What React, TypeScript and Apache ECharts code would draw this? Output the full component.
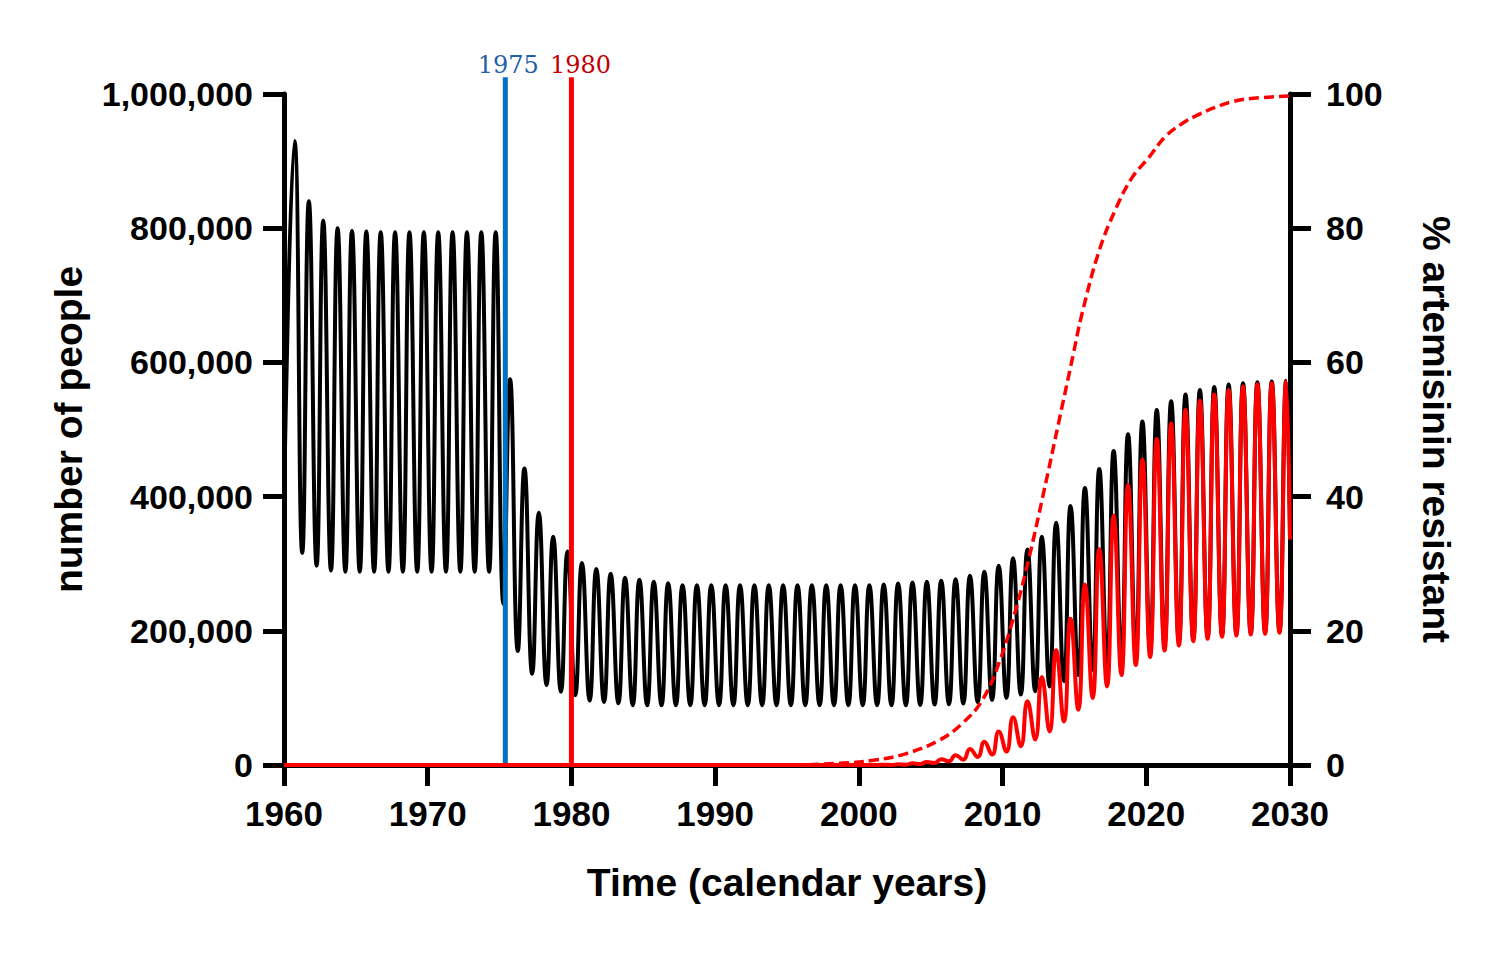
import React, { useEffect, useRef } from "react";
import * as echarts from "echarts";

// ---- data ----
// Seasonal peaks (≈ year + 0.73) and troughs (≈ year + 0.27) of the total number of people
const PEAK_PHASE = 0.73;
const TROUGH_PHASE = 0.27;

const totalStart = 390000; // 1960.0
const totalEnd = 336000; // 2030.0

// peaks, years 1960 … 2029
const totalPeaks = [
  930000, 840000, 811000, 800000, 796000, 795000, 794000, 794000, 794000, 794000,
  794000, 794000, 794000, 794000, 794000, 575000, 442000, 376000, 340000, 318000,
  301000, 292000, 285000, 279000, 276000, 273000, 271000, 268000, 268000, 268000,
  268000, 268000, 268000, 268000, 268000, 268000, 268000, 268000, 268000, 268000,
  268000, 269000, 270500, 272000, 273000, 274500, 277000, 282000, 288000, 297000,
  308000, 321000, 340000, 361000, 386000, 413000, 441000, 468000, 493000, 512000,
  529000, 542000, 552000, 559000, 563500, 567000, 569000, 570500, 571500, 572500,
];

// troughs, years 1961 … 2029
const totalTroughs = [
  316000, 297000, 290000, 288000, 288000, 288000, 288000, 288000, 288000, 288000,
  288000, 288000, 288000, 288000, 240000, 170000, 136000, 119000, 109000, 104000,
  96000, 94000, 92000, 89000, 89000, 89000, 89000, 89000, 89000, 89000,
  89000, 89000, 89000, 89000, 89000, 89000, 89000, 89000, 89000, 89000,
  89000, 89000, 89000, 89500, 90000, 90500, 91500, 93500, 97000, 100000,
  105000, 110000, 117000, 125000, 134000, 142000, 150000, 158000, 166000, 173000,
  179000, 184000, 188000, 191000, 194000, 196000, 197000, 198000, 199000,
];

// resistant infections: zero until 2001, then peaks 2001 … 2029 and troughs 2002 … 2029
const resistantZeroUntil = 2001.27;
const resistantPeaks = [
  500, 1000, 2500, 4500, 8500, 14500, 24000, 34500, 50000, 71000,
  95000, 131000, 171000, 218000, 269000, 322000, 372000, 417000, 455000, 486000,
  509000, 529000, 543000, 552000, 559000, 564000, 567500, 569000, 571500,
];
const resistantTroughs = [
  0, 500, 1500, 3000, 5500, 8000, 12000, 15500, 20000, 28000,
  38000, 50000, 65000, 82500, 100000, 117000, 134000, 149000, 161000, 170500,
  178000, 184500, 188000, 191000, 193000, 194500, 195500, 197000,
];
const resistantEnd = 336000;

// % artemisinin resistant (right axis)
const resistanceYears = [
  1960, 1995, 1998.6, 2001, 2003.3, 2005.6, 2007.2, 2008.6, 2009.8, 2010.9,
  2011.8, 2012.9, 2013.9, 2014.9, 2015.5, 2016.7, 2017.9, 2019.0, 2020.2, 2021.3,
  2022.5, 2023.7, 2024.8, 2025.9, 2027.1, 2030,
];
const resistancePct = [
  0, 0, 0.25, 0.7, 1.7, 3.7, 6.2, 9.7, 15.5, 23,
  30.5, 41, 51, 61, 67, 76.5, 83, 87.5, 90.6, 93.6,
  95.6, 97, 98, 98.8, 99.3, 99.7,
];

// vertical event markers
const markerYears = [1975.4, 1980];
const markerLabels = ["1975", "1980"];
const markerTopValue = 1025000;

// styling for the markers (kept separate from data)
const markerLineColors = ["#0070C0", "#FF0000"];
const markerTextColors = ["#1F60A8", "#C00000"];
const markerLabelDx = [3, 9];

const xTicks = { min: 1960, max: 2030, interval: 10 };
const leftTicks = { min: 0, max: 1000000, interval: 200000 };
const rightTicks = { min: 0, max: 100, interval: 20 };

function buildTotal(): [number, number][] {
  const out: [number, number][] = [[1960, totalStart]];
  for (let i = 0; i < totalPeaks.length; i++) {
    const yr = 1960 + i;
    if (i > 0) out.push([yr + TROUGH_PHASE, totalTroughs[i - 1]]);
    out.push([yr + PEAK_PHASE, totalPeaks[i]]);
  }
  out.push([2030, totalEnd]);
  return out;
}

function buildResistant(): [number, number][] {
  const out: [number, number][] = [
    [1960, 0],
    [resistantZeroUntil, 0],
  ];
  for (let i = 0; i < resistantPeaks.length; i++) {
    const yr = 2001 + i;
    if (i > 0) out.push([yr + TROUGH_PHASE, resistantTroughs[i - 1]]);
    out.push([yr + PEAK_PHASE, resistantPeaks[i]]);
  }
  out.push([2030, resistantEnd]);
  return out;
}

const FONT = "Liberation Sans";

export default function App() {
  const ref = useRef<HTMLDivElement>(null);
  useEffect(() => {
    if (!ref.current) return;
    const chart = echarts.init(ref.current, undefined, { renderer: "svg" });
    const axisLine = { show: true, lineStyle: { color: "#000", width: 5 } };
    const axisTick = { show: true, inside: false, length: 21, lineStyle: { color: "#000", width: 5 } };
    const nameStyle = { color: "#000", fontFamily: FONT, fontWeight: "bold", fontSize: 39 };
    chart.setOption({
      animation: false,
      backgroundColor: "#ffffff",
      grid: { left: 284, right: 212, top: 94, bottom: 192, containLabel: false },
      xAxis: {
        type: "value",
        ...xTicks,
        axisLine,
        axisTick,
        splitLine: { show: false },
        axisLabel: {
          color: "#000",
          fontFamily: FONT,
          fontWeight: "bold",
          fontSize: 35,
          margin: 31,
          formatter: (v: number) => String(v),
        },
        name: "Time (calendar years)",
        nameLocation: "middle",
        nameGap: 98,
        nameTextStyle: nameStyle,
      },
      yAxis: [
        {
          type: "value",
          position: "left",
          ...leftTicks,
          axisLine,
          axisTick,
          splitLine: { show: false },
          axisLabel: {
            color: "#000",
            fontFamily: FONT,
            fontWeight: "bold",
            fontSize: 34,
            margin: 31,
            formatter: (v: number) => v.toLocaleString("en-US"),
          },
          name: "number of people",
          nameLocation: "middle",
          nameGap: 196,
          nameTextStyle: nameStyle,
        },
        {
          type: "value",
          position: "right",
          ...rightTicks,
          axisLine,
          axisTick,
          splitLine: { show: false },
          axisLabel: {
            color: "#000",
            fontFamily: FONT,
            fontWeight: "bold",
            fontSize: 34,
            margin: 36,
          },
          name: "% artemisinin resistant",
          nameLocation: "middle",
          nameRotate: -90,
          nameGap: 127,
          nameTextStyle: nameStyle,
        },
      ],
      series: [
        {
          type: "line",
          name: "total",
          data: buildTotal(),
          xAxisIndex: 0,
          yAxisIndex: 0,
          showSymbol: false,
          smooth: 0.5,
          lineStyle: { color: "#000", width: 4 },
          z: 3,
        },
        {
          type: "custom",
          name: "markers",
          xAxisIndex: 0,
          yAxisIndex: 0,
          clip: false,
          z: 4,
          data: markerYears.map((y, i) => [y, i]),
          renderItem: (params: any, api: any) => {
            const x = api.value(0);
            const idx = api.value(1);
            const bottom = api.coord([x, 0]);
            const top = api.coord([x, markerTopValue]);
            return {
              type: "group",
              children: [
                {
                  type: "line",
                  shape: { x1: bottom[0], y1: bottom[1], x2: top[0], y2: top[1] },
                  style: { stroke: markerLineColors[idx], lineWidth: 5 },
                },
                {
                  type: "text",
                  x: top[0] + markerLabelDx[idx],
                  y: top[1] - 12,
                  style: {
                    text: markerLabels[idx],
                    fill: markerTextColors[idx],
                    font: '24px "DejaVu Serif"',
                    align: "center",
                    verticalAlign: "middle",
                  },
                },
              ],
            };
          },
        },
        {
          type: "line",
          name: "resistant",
          data: buildResistant(),
          xAxisIndex: 0,
          yAxisIndex: 0,
          showSymbol: false,
          smooth: 0.5,
          lineStyle: { color: "#FF0000", width: 4 },
          z: 5,
        },
        {
          type: "line",
          name: "% resistant",
          data: resistanceYears.map((y, i) => [y, resistancePct[i]]),
          xAxisIndex: 0,
          yAxisIndex: 1,
          showSymbol: false,
          smooth: 0.4,
          lineStyle: { color: "#FF0000", width: 3.5, type: [10, 5] },
          z: 6,
        },
      ],
    });
    return () => chart.dispose();
  }, []);
  return (
    <div
      ref={ref}
      style={{ position: "fixed", left: 0, top: 0, width: 1502, height: 957, background: "#fff" }}
    />
  );
}
